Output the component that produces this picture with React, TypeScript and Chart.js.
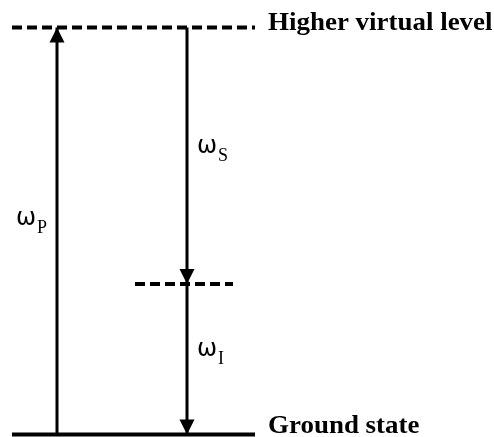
import React, { useEffect, useRef } from "react";
import { Chart, registerables } from "chart.js";

Chart.register(...registerables);

// Energy levels (normalised energy, ground = 0, virtual level = 1)
const levelNames = ["Ground state", "", "Higher virtual level"];
const levelEnergy = [0, 0.37, 1];
const levelXStart = [12, 135, 12];
const levelXEnd = [255, 233, 255];
const levelDashed = [false, true, true];

// Transitions (arrows)
const transSymbol = ["ω", "ω", "ω"];
const transSub = ["P", "S", "I"];
const transX = [57, 187, 187];
const transFrom = [0, 1, 0.37];
const transTo = [1, 0.37, 0];

const arrowPlugin = {
  id: "arrowsAndLabels",
  afterDatasetsDraw(chart: any) {
    const { ctx, scales } = chart;
    const xs = scales.x;
    const ys = scales.y;
    ctx.save();
    for (let i = 0; i < transX.length; i++) {
      const px = xs.getPixelForValue(transX[i]);
      const tipY = ys.getPixelForValue(transTo[i]);
      const fromY = ys.getPixelForValue(transFrom[i]);
      const dir = tipY < fromY ? 1 : -1;
      const h = 15;
      const w = 7.5;
      ctx.beginPath();
      ctx.moveTo(px, tipY);
      ctx.lineTo(px - w, tipY + dir * h);
      ctx.lineTo(px + w, tipY + dir * h);
      ctx.closePath();
      ctx.fillStyle = "#000";
      ctx.fill();

      const midY = (tipY + fromY) / 2;
      const up = dir === 1;
      ctx.fillStyle = "#000";
      ctx.textBaseline = "alphabetic";
      const symFont = '24px "DejaVu Sans"';
      const subFont = '18px "Liberation Serif"';
      ctx.font = symFont;
      const wW = ctx.measureText(transSymbol[i]).width;
      ctx.font = subFont;
      const sW = ctx.measureText(transSub[i]).width;
      const total = wW + sW;
      const baseY = midY - (up ? 6 : 3);
      const startX = up ? px - 11 - total : px + 10;
      ctx.font = symFont;
      ctx.fillText(transSymbol[i], startX, baseY);
      ctx.font = subFont;
      ctx.fillText(transSub[i], startX + wW + 1, baseY + 8);
    }
    ctx.font = 'bold 24.5px "Liberation Serif"';
    ctx.fillStyle = "#000";
    ctx.textBaseline = "alphabetic";
    for (let i = 0; i < levelNames.length; i++) {
      if (!levelNames[i]) continue;
      const px = xs.getPixelForValue(levelXEnd[i]) + 13;
      const py = ys.getPixelForValue(levelEnergy[i]);
      const isBottom = levelEnergy[i] === Math.min(...levelEnergy);
      ctx.save();
      ctx.translate(px, isBottom ? py - 1.5 : py + 2);
      ctx.scale(1.1, 1);
      ctx.fillText(levelNames[i], 0, 0);
      ctx.restore();
    }
    ctx.restore();
  },
};

export default function App() {
  const ref = useRef<HTMLCanvasElement>(null);
  useEffect(() => {
    document.body.style.margin = "0";
    const datasets: any[] = [];
    for (let i = 0; i < levelEnergy.length; i++) {
      datasets.push({
        data: [
          { x: levelXStart[i], y: levelEnergy[i] },
          { x: levelXEnd[i], y: levelEnergy[i] },
        ],
        showLine: true,
        borderColor: "#000",
        borderWidth: 4,
        borderDash: levelDashed[i] ? [10, 5] : [],
        pointRadius: 0,
      });
    }
    for (let i = 0; i < transX.length; i++) {
      datasets.push({
        data: [
          { x: transX[i], y: transFrom[i] },
          { x: transX[i], y: transTo[i] },
        ],
        showLine: true,
        borderColor: "#000",
        borderWidth: 3,
        pointRadius: 0,
      });
    }
    const chart = new Chart(ref.current!, {
      type: "scatter",
      data: { datasets },
      options: {
        animation: false,
        responsive: false,
        layout: { padding: 0 },
        plugins: { legend: { display: false }, tooltip: { enabled: false } },
        scales: {
          x: { type: "linear", display: false, min: 0, max: 494 },
          y: { type: "linear", display: false, min: -0.00614, max: 1.06757 },
        },
      },
      plugins: [arrowPlugin],
    });
    return () => chart.destroy();
  }, []);
  return (
    <div style={{ position: "absolute", left: 0, top: 0, width: 494, height: 437, background: "#fff" }}>
      <canvas ref={ref} width={494} height={437} />
    </div>
  );
}
